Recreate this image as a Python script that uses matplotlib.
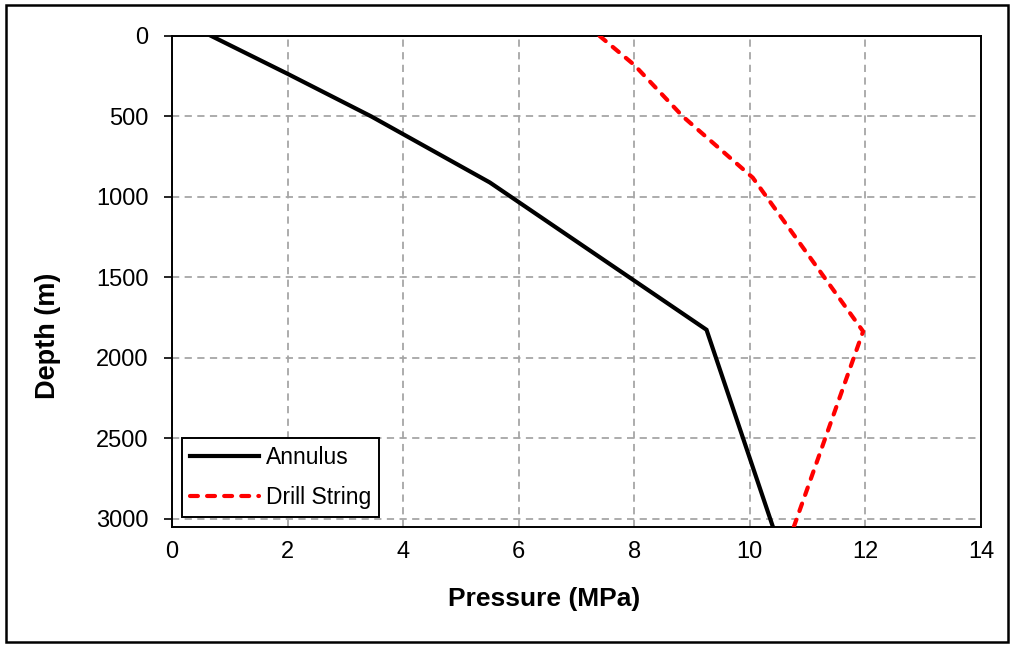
import matplotlib
matplotlib.use("Agg")
import matplotlib.pyplot as plt
from matplotlib.patches import Rectangle

plt.rcParams['font.family'] = ['Liberation Sans', 'DejaVu Sans']

# Pressure profiles along the well (MPa vs depth in m)
annulus_pressure = [0.68, 2.0, 3.45, 5.5, 9.25, 10.40]
annulus_depth = [0, 235, 500, 910, 1825, 3050]

drill_pressure = [7.40, 8.0, 8.84, 10.05, 11.96, 10.76]
drill_depth = [0, 180, 500, 880, 1835, 3050]

x_ticks = [0, 2, 4, 6, 8, 10, 12, 14]
y_ticks = [0, 500, 1000, 1500, 2000, 2500, 3000]

fig = plt.figure(figsize=(10.13, 6.47), dpi=100)
ax = fig.add_axes([0.1698, 0.1855, 0.7986, 0.7589])

ax.plot(annulus_pressure, annulus_depth, color='black', lw=3.0,
        solid_joinstyle='miter', label='Annulus', zorder=3)
ax.plot(drill_pressure, drill_depth, color='#ff0000', lw=3.0,
        dashes=(1.9, 2.2), dash_capstyle='round', label='Drill String', zorder=3)

ax.set_xlim(0, 14)
ax.set_ylim(3050, 0)
ax.set_xticks(x_ticks)
ax.set_yticks(y_ticks)

ax.grid(True, color='#a6a6a6', lw=1.3, linestyle=(0, (4, 3)))
ax.set_axisbelow(True)

for s in ax.spines.values():
    s.set_linewidth(1.4)
    s.set_color('black')

ax.tick_params(axis='y', direction='out', length=6, width=1.2, pad=11, labelsize=17)
ax.tick_params(axis='x', length=0, pad=10, labelsize=17)

ax.set_xlabel('Pressure (MPa)', fontsize=19, fontweight='bold')
ax.set_ylabel('Depth (m)', fontsize=19.5, fontweight='bold')
ax.xaxis.set_label_coords(0.46, -0.122)
ax.yaxis.set_label_coords(-0.137, 0.39)

leg = ax.legend(loc='lower left', bbox_to_anchor=(0.0124, 0.0204),
                borderaxespad=0, fontsize=16.5, handlelength=3.0,
                handletextpad=0.3, labelspacing=0.75, borderpad=0.35,
                fancybox=False, framealpha=1, edgecolor='black')
leg.get_frame().set_linewidth(1.4)

# Outer border around the whole figure
fig.patches.append(Rectangle((0.006, 0.008), 0.989, 0.984, transform=fig.transFigure,
                             fill=False, edgecolor='black', lw=1.8))

fig.savefig('out.png', dpi=100)
